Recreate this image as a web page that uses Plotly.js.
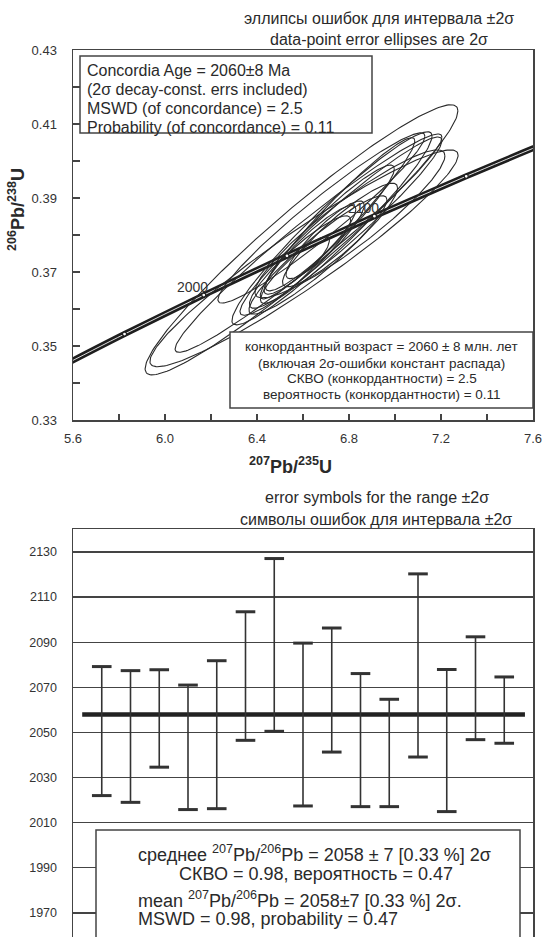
<!DOCTYPE html>
<html><head><meta charset="utf-8">
<script src="https://cdn.plot.ly/plotly-3.0.1.min.js"></script>
<style>html,body{margin:0;padding:0;background:#fff}#c{width:544px;height:937px}</style>
</head><body><div id="c"></div>
<script>
// ---- Concordia curve (tabulated, 207Pb/235U vs 206Pb/238U) ----
const concAges = [1900, 1950, 2000, 2050, 2100, 2150, 2200];
const concX = [5.49618, 5.82408, 6.16853, 6.53036, 6.91045, 7.30972, 7.72921];
const concY = [0.342773, 0.353229, 0.363766, 0.374384, 0.385087, 0.395871, 0.406741];
const concLabels = ['', '', '2000', '', '2100', '', ''];

// ---- Data-point error ellipses (2 sigma) ----
const ellX   = [6.5935, 6.6043, 6.624, 6.680, 6.726, 6.765, 6.750, 6.804, 6.630, 6.696, 6.587, 6.761, 6.665, 6.717, 6.565];
const ellSX  = [0.680, 0.670, 0.580, 0.450, 0.435, 0.439, 0.336, 0.413, 0.200, 0.170, 0.220, 0.250, 0.300, 0.280, 0.150];
const ellY   = [0.3787, 0.3737, 0.3778, 0.3846, 0.3818, 0.3824, 0.3845, 0.3830, 0.3760, 0.3787, 0.3727, 0.3800, 0.3746, 0.3819, 0.3705];
const ellSY  = [0.0365, 0.0293, 0.0295, 0.0230, 0.0261, 0.0241, 0.0218, 0.0200, 0.0120, 0.0105, 0.0125, 0.0140, 0.0160, 0.0170, 0.0090];
const ellRho = [0.955, 0.95, 0.97, 0.96, 0.955, 0.96, 0.96, 0.92, 0.91, 0.89, 0.91, 0.91, 0.93, 0.94, 0.89];

// ---- 207Pb/206Pb ages with 2 sigma errors ----
const spots = [1, 2, 3, 4, 5, 6, 7, 8, 9, 10, 11, 12, 13, 14, 15];
const ages  = [2050.6, 2048.2, 2056.2, 2043.4, 2049.0, 2075.0, 2088.8, 2053.5, 2068.8, 2046.6, 2040.9, 2079.7, 2046.4, 2069.6, 2059.9];
const errs  = [28.6, 29.2, 21.6, 27.6, 32.8, 28.5, 38.3, 36.1, 27.5, 29.5, 23.8, 40.6, 31.5, 22.8, 14.7];
const meanAge = 2058;

// ---- geometry helpers (pixel -> paper) ----
const L = 73, R = 11, T = 50, B = 0, W = 544, H = 937;
const pw = W - L - R, ph = H - T - B;
const PX = p => (p - L) / pw;
const PY = p => (H - B - p) / ph;

const FONT = 'Liberation Sans, Arial, sans-serif';
const INK = '#2a2a2a';
const AX = '#444';

const traces = [];

// concordia band
traces.push({x: concX, y: concY, xaxis: 'x', yaxis: 'y', mode: 'lines',
  line: {color: '#1e1e1e', width: 6, shape: 'spline'}, hoverinfo: 'skip'});
traces.push({x: concX, y: concY, xaxis: 'x', yaxis: 'y', mode: 'lines',
  line: {color: '#dddddd', width: 1, shape: 'spline'}, hoverinfo: 'skip'});

// ellipses
for (let i = 0; i < ellX.length; i++) {
  const xs = [], ys = [];
  const n = 200;
  const s = Math.sqrt(1 - ellRho[i] * ellRho[i]);
  for (let k = 0; k <= n; k++) {
    const t = 2 * Math.PI * k / n;
    xs.push(ellX[i] + ellSX[i] * Math.cos(t));
    ys.push(ellY[i] + ellSY[i] * (ellRho[i] * Math.cos(t) + s * Math.sin(t)));
  }
  traces.push({x: xs, y: ys, xaxis: 'x', yaxis: 'y', mode: 'lines',
    line: {color: INK, width: 1.1}, hoverinfo: 'skip'});
}

// concordia age markers
traces.push({x: concX, y: concY, xaxis: 'x', yaxis: 'y', mode: 'markers',
  marker: {symbol: 'circle', size: 4, color: '#fff', line: {color: '#1e1e1e', width: 1.2}},
  cliponaxis: true, hoverinfo: 'skip'});

// error bars
traces.push({x: spots, y: ages, xaxis: 'x2', yaxis: 'y2', mode: 'markers',
  marker: {color: 'rgba(0,0,0,0)', size: 1},
  error_y: {type: 'data', array: errs, symmetric: true, width: 0, thickness: 1.6, color: '#333'},
  hoverinfo: 'skip'});
// caps
traces.push({x: spots.concat(spots), y: ages.map((a, i) => a + errs[i]).concat(ages.map((a, i) => a - errs[i])),
  xaxis: 'x2', yaxis: 'y2', mode: 'markers',
  marker: {symbol: 'line-ew', size: 14, line: {color: '#333', width: 3}}, hoverinfo: 'skip'});

const ann = [];
function txt(text, x, y, size, opts) {
  ann.push(Object.assign({text: text, xref: 'paper', yref: 'paper', x: PX(x), y: PY(y),
    xanchor: 'center', yanchor: 'middle', showarrow: false,
    font: {family: FONT, size: size, color: INK}}, opts || {}));
}
// titles
txt('эллипсы ошибок для интервала ±2σ', 379, 19, 16);
txt('data-point error ellipses are 2σ', 379, 40, 16);
txt('error symbols for the range ±2σ', 377, 497, 16);
txt('символы ошибок для интервала ±2σ', 376, 519, 16);
// axis titles
txt('<b><sup>207</sup>Pb/<sup>235</sup>U</b>', 290, 465, 18);
txt('<b><sup>206</sup>Pb/<sup>238</sup>U</b>', 16, 210, 18, {textangle: -90});
// top-left box
const tl = ['Concordia Age = 2060±8 Ma', '(2σ decay-const. errs included)', 'MSWD (of concordance) = 2.5', 'Probability (of concordance) = 0.11'];
const tly = [70.7, 89.5, 108.5, 127.7];
tl.forEach((s, i) => txt(s, 85, tly[i], 16, {xanchor: 'left'}));
// bottom-right box (Russian)
const br = ['конкордантный возраст = 2060 ± 8 млн. лет', '(включая 2σ-ошибки констант распада)', 'СКВО (конкордантности) = 2.5', 'вероятность (конкордантности) = 0.11'];
const bry = [346.7, 363.3, 378.6, 394];
br.forEach((s, i) => txt(s, 381.5, bry[i], 13.5));
// concordia labels
concLabels.forEach((s, i) => {
  if (s) ann.push({text: s, xref: 'x', yref: 'y', x: concX[i], y: concY[i], xshift: -11, yshift: 8,
    showarrow: false, font: {family: FONT, size: 14, color: '#333'}});
});
// bottom box text
txt('среднее <sup>207</sup>Pb/<sup>206</sup>Pb = 2058 ± 7 [0.33 %] 2σ', 136, 853, 18, {xanchor: 'left'});
txt('СКВО = 0.98, вероятность = 0.47', 316, 874, 18);
txt('mean <sup>207</sup>Pb/<sup>206</sup>Pb = 2058±7 [0.33 %] 2σ.', 136, 899, 18, {xanchor: 'left'});
txt('MSWD = 0.98, probability = 0.47', 136, 919, 18, {xanchor: 'left'});

const shapes = [
  {type: 'rect', xref: 'paper', yref: 'paper', x0: PX(80), x1: PX(372), y0: PY(56), y1: PY(133),
   line: {color: AX, width: 1.5}, fillcolor: '#fff', layer: 'above'},
  {type: 'rect', xref: 'paper', yref: 'paper', x0: PX(230), x1: PX(533), y0: PY(332), y1: PY(408),
   line: {color: AX, width: 1.5}, fillcolor: '#fff', layer: 'above'},
  {type: 'line', xref: 'x2', yref: 'y2', x0: 0.32, x1: 15.72, y0: meanAge, y1: meanAge,
   line: {color: '#222', width: 4.5}, layer: 'below'},
  {type: 'rect', xref: 'paper', yref: 'paper', x0: PX(96), x1: PX(520), y0: PY(950), y1: PY(830),
   line: {color: AX, width: 1.5}, fillcolor: '#fff', layer: 'above'}
];

const topDom = [PY(420), 1];
const botDom = [0, PY(529)];

const layout = {
  width: W, height: H, margin: {l: L, r: R, t: T, b: B, pad: 0},
  paper_bgcolor: '#fff', plot_bgcolor: '#fff', showlegend: false,
  font: {family: FONT, color: INK},
  xaxis: {domain: [0, 1], anchor: 'y', range: [5.6, 7.6], tick0: 5.6, dtick: 0.4, tickformat: '.1f',
    ticks: 'inside', ticklen: 6, tickwidth: 1.2, tickcolor: AX,
    minor: {dtick: 0.2, tick0: 5.6, ticks: 'inside', ticklen: 6, tickwidth: 1.2, tickcolor: AX},
    showline: true, linecolor: AX, linewidth: 1.5, mirror: true, showgrid: false, zeroline: false,
    ticklabelstandoff: 6, tickfont: {family: FONT, size: 13, color: '#333'}},
  yaxis: {domain: topDom, anchor: 'x', range: [0.33, 0.43], tick0: 0.33, dtick: 0.02, tickformat: '.2f',
    ticks: 'inside', ticklen: 7, tickwidth: 1.2, tickcolor: AX,
    minor: {dtick: 0.01, tick0: 0.33, ticks: 'inside', ticklen: 7, tickwidth: 1.2, tickcolor: AX},
    showline: true, linecolor: AX, linewidth: 1.5, mirror: true, showgrid: false, zeroline: false,
    ticklabelstandoff: 12, tickfont: {family: FONT, size: 13, color: '#333'}},
  xaxis2: {domain: [0, 1], anchor: 'y2', range: [0, 16], showticklabels: false, ticks: '',
    showline: true, linecolor: AX, linewidth: 1.5, mirror: true, showgrid: false, zeroline: false},
  yaxis2: {domain: botDom, anchor: 'x2', range: [1959.3, 2140.2], tick0: 1970, dtick: 20,
    ticks: '', showline: true, linecolor: AX, linewidth: 1.5, mirror: true,
    showgrid: true, gridcolor: '#444', gridwidth: 1.3, zeroline: false,
    ticklabelstandoff: 12, tickfont: {family: FONT, size: 12.5, color: '#333'}},
  annotations: ann,
  shapes: shapes
};

Plotly.newPlot('c', traces, layout, {staticPlot: true, displayModeBar: false});
</script>
</body></html>
